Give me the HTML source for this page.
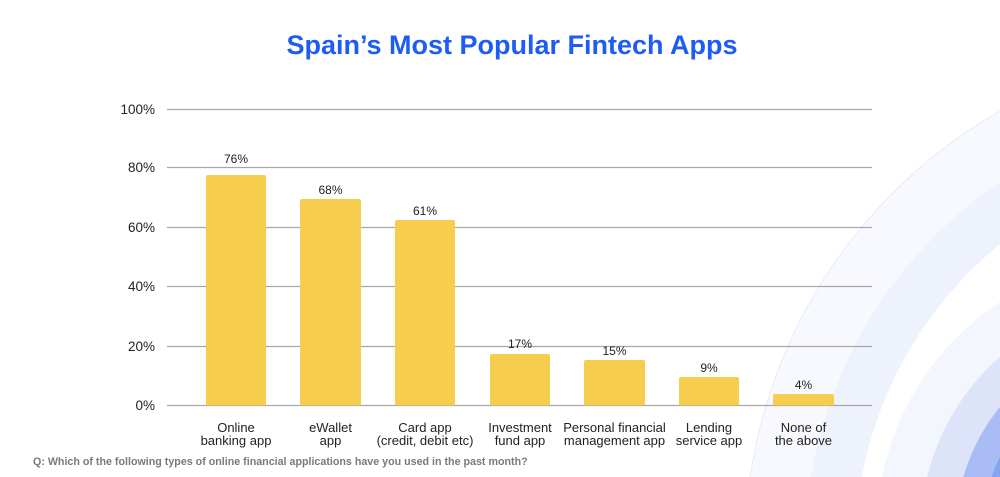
<!DOCTYPE html>
<html><head><meta charset="utf-8"><style>
html,body{margin:0;background:#fff;width:1000px;height:477px;overflow:hidden;}
svg{display:block;font-family:"Liberation Sans",sans-serif;}
</style></head><body>
<svg width="1000" height="477" viewBox="0 0 1000 477">
<rect width="1000" height="477" fill="#fff"/>
<circle cx="1250" cy="550" r="505" fill="#f8f9fe" stroke="#e6ebfb" stroke-width="1"/>
<circle cx="1250" cy="550" r="445" fill="#eef2fc"/>
<circle cx="1250" cy="550" r="395" fill="#fff"/>
<circle cx="1150" cy="530" r="273" fill="#f4f6fe"/>
<circle cx="1150" cy="530" r="229" fill="#dde4fa"/>
<circle cx="1150" cy="530" r="194" fill="#a9bcf5"/>
<circle cx="1150" cy="530" r="167" fill="#86a3f1"/>
<text x="512" y="54" text-anchor="middle" font-size="27" font-weight="bold" fill="#1d5cf5">Spain’s Most Popular Fintech Apps</text>
<g stroke="#a8a8a8" stroke-width="1.2">
<line x1="167" x2="872" y1="109.5" y2="109.5"/>
<line x1="167" x2="872" y1="167.5" y2="167.5"/>
<line x1="167" x2="872" y1="227.5" y2="227.5"/>
<line x1="167" x2="872" y1="286.5" y2="286.5"/>
<line x1="167" x2="872" y1="346.5" y2="346.5"/>
<line x1="167" x2="872" y1="405.5" y2="405.5"/>
</g>
<g font-size="13.5" fill="#222" text-anchor="end">
<text x="155" y="114">100%</text>
<text x="155" y="172">80%</text>
<text x="155" y="232">60%</text>
<text x="155" y="291">40%</text>
<text x="155" y="351">20%</text>
<text x="155" y="410">0%</text>
</g>
<g fill="#f6cd4c">
<rect x="206" y="175" width="60" height="230.5" rx="2"/>
<rect x="300" y="199" width="61" height="206.5" rx="2"/>
<rect x="395" y="220" width="60" height="185.5" rx="2"/>
<rect x="490" y="354" width="60" height="51.5" rx="2"/>
<rect x="584" y="360" width="61" height="45.5" rx="2"/>
<rect x="679" y="377" width="60" height="28.5" rx="2"/>
<rect x="773" y="394" width="61" height="11.5" rx="2"/>
</g>
<g font-size="12" fill="#222" text-anchor="middle">
<text x="236" y="163">76%</text>
<text x="330.5" y="194">68%</text>
<text x="425" y="215">61%</text>
<text x="520" y="348">17%</text>
<text x="614.5" y="355">15%</text>
<text x="709" y="372">9%</text>
<text x="803.5" y="389">4%</text>
</g>
<g font-size="13" fill="#222" text-anchor="middle">
<text x="236" y="432">Online</text><text x="236" y="445">banking app</text>
<text x="330.5" y="432">eWallet</text><text x="330.5" y="445">app</text>
<text x="425" y="432">Card app</text><text x="425" y="445">(credit, debit etc)</text>
<text x="520" y="432">Investment</text><text x="520" y="445">fund app</text>
<text x="614.5" y="432">Personal financial</text><text x="614.5" y="445">management app</text>
<text x="709" y="432">Lending</text><text x="709" y="445">service app</text>
<text x="803.5" y="432">None of</text><text x="803.5" y="445">the above</text>
</g>
<text x="33" y="465" font-size="10.7" font-weight="bold" fill="#7a7a7a">Q: Which of the following types of online financial applications have you used in the past month?</text>
</svg>
</body></html>
